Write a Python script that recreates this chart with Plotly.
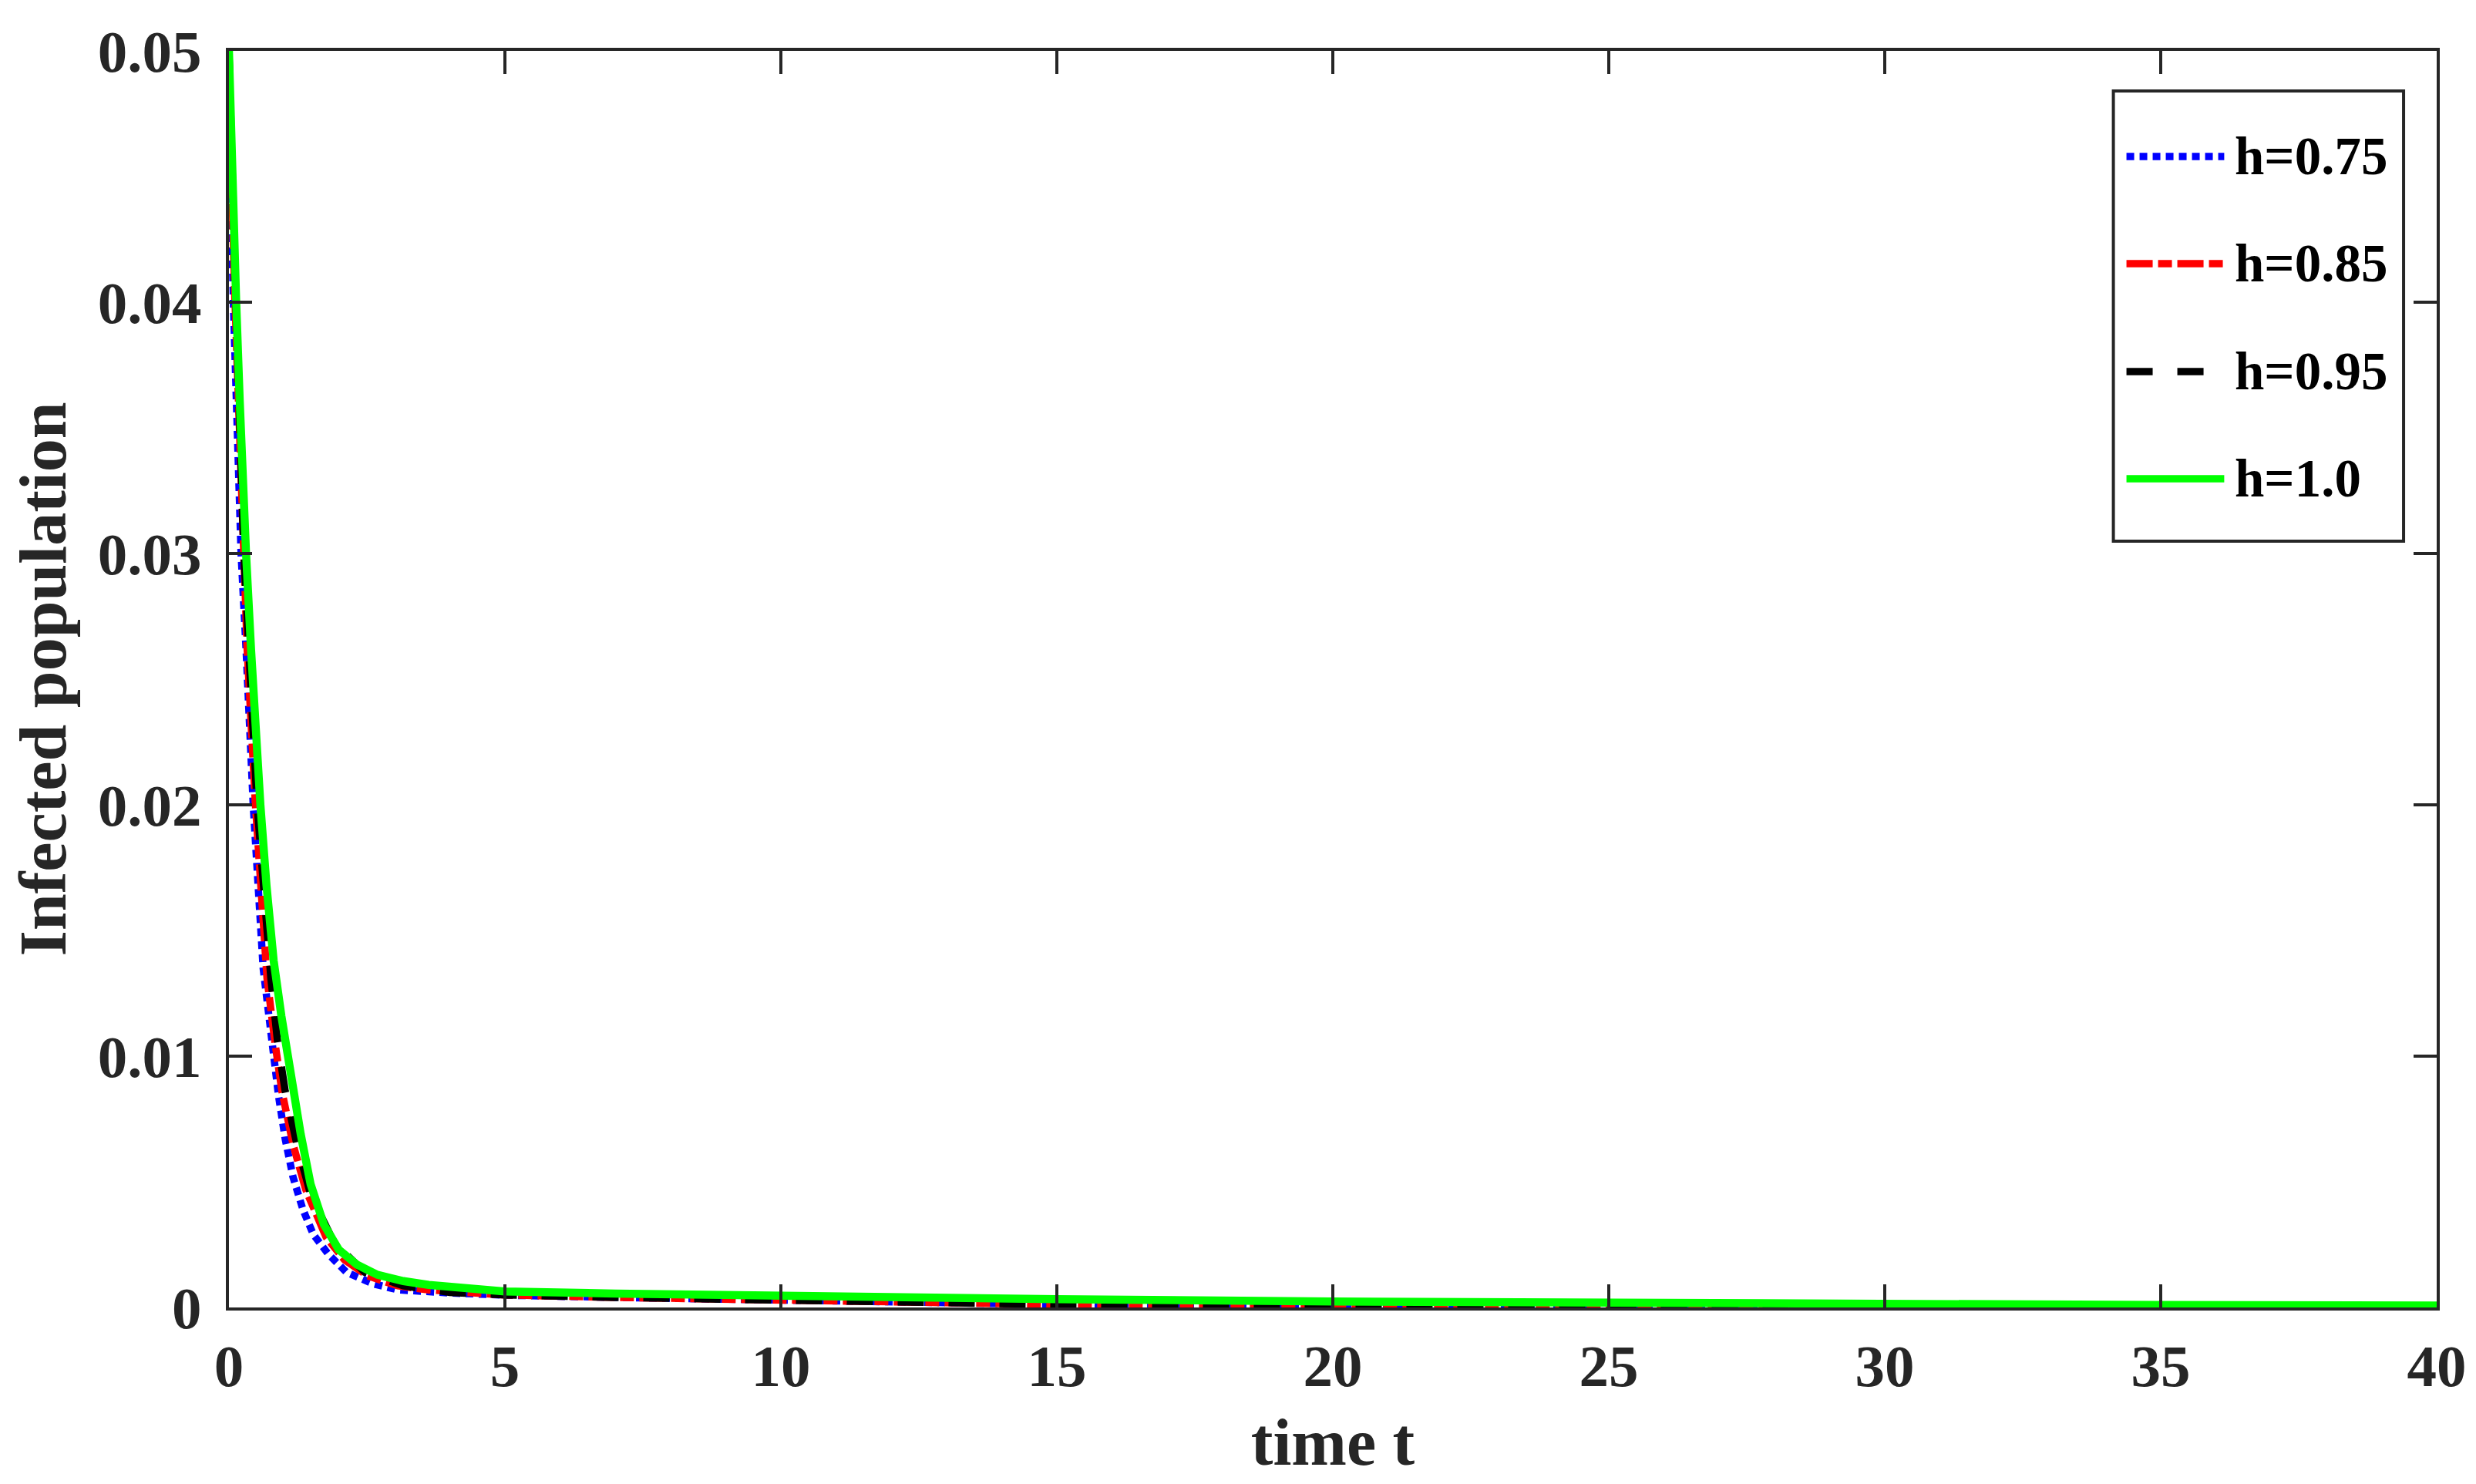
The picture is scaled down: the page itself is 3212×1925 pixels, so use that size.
import plotly.graph_objects as go

# ---------------- data ----------------
series_names = ["h=0.75", "h=0.85", "h=0.95", "h=1.0"]

t_h075 = [0, 0.02, 0.05, 0.08, 0.13, 0.18, 0.22, 0.31, 0.44, 0.62, 0.72, 0.81, 0.90,
          1.02, 1.16, 1.34, 1.53, 1.81, 2.13, 2.60, 3.06, 4.0, 5, 7, 10, 12.6, 15, 20,
          25, 30, 35, 40]
y_h075 = [0.05, 0.0455, 0.0431, 0.0400, 0.0366, 0.0325, 0.0300, 0.0262, 0.0200, 0.0135,
          0.0116, 0.0099, 0.0084, 0.0067, 0.0052, 0.0039, 0.0029, 0.0021, 0.0014, 0.00095,
          0.0007, 0.00058, 0.00049, 0.0004, 0.00028, 0.0002, 0.00012, 0.00005, 0.00002,
          0.0, -0.00002, -0.00004]

t_h085 = [0, 0.03, 0.07, 0.11, 0.16, 0.21, 0.25, 0.33, 0.48, 0.69, 0.83, 0.96, 1.16,
          1.39, 1.76, 2.09, 2.51, 3.06, 3.62, 5, 7, 10, 12.6, 15, 20, 25, 30, 35, 40]
y_h085 = [0.05, 0.0455, 0.0431, 0.0400, 0.0366, 0.0325, 0.0300, 0.0262, 0.0200, 0.0131,
          0.0106, 0.0086, 0.0065, 0.0047, 0.0028, 0.0019, 0.00126, 0.00086, 0.0007,
          0.0005, 0.0004, 0.00029, 0.0002, 0.00012, 0.00005, 0.00002, 0.00001, 0.0,
          -0.00002]

t_h095 = [0, 0.035, 0.085, 0.125, 0.175, 0.235, 0.27, 0.36, 0.51, 0.76, 0.88, 1.02,
          1.23, 1.48, 1.90, 2.46, 3.16, 4.0, 5, 7, 10, 12.6, 15, 20, 25, 30, 35, 40]
y_h095 = [0.05, 0.0455, 0.0431, 0.0400, 0.0366, 0.0325, 0.0300, 0.0262, 0.0200, 0.0131,
          0.0106, 0.0086, 0.0065, 0.0045, 0.0026, 0.0014, 0.00086, 0.0006, 0.0005,
          0.0004, 0.0003, 0.0002, 0.00012, 0.00005, 0.00002, 0.00001, 0.0, -0.00002]

t_h100 = [0, 0.024, 0.06, 0.13, 0.195, 0.265, 0.31, 0.40, 0.49, 0.57, 0.68, 0.81, 0.95,
          1.06, 1.16, 1.30, 1.48, 1.72, 1.99, 2.32, 2.69, 3.16, 3.62, 4.04, 5, 7, 10,
          12.6, 15, 20, 25, 30, 35, 40]
y_h100 = [0.05, 0.0478, 0.0443, 0.0401, 0.0361, 0.0318, 0.0300, 0.0262, 0.0227, 0.0200,
          0.0168, 0.0138, 0.0116, 0.0101, 0.0087, 0.0069, 0.0049, 0.0033, 0.0023, 0.0017,
          0.0013, 0.00105, 0.0009, 0.0008, 0.00064, 0.00055, 0.00045, 0.00038, 0.00033,
          0.00024, 0.00017, 0.00013, 0.0001, 0.00008]

x_ticks = [0, 5, 10, 15, 20, 25, 30, 35, 40]
x_ticktext = ["0", "5", "10", "15", "20", "25", "30", "35", "40"]
y_ticks = [0, 0.01, 0.02, 0.03, 0.04, 0.05]
y_ticktext = ["0", "0.01", "0.02", "0.03", "0.04", "0.05"]

# ---------------- styles ----------------
FONT = "Liberation Serif, Times New Roman, serif"
AX = "#262626"
styles = [
    dict(color="#0000FF", width=9.5, dash="10px,7px"),
    dict(color="#FF0000", width=9.5, dash="34px,7px,18px,7px"),
    dict(color="#000000", width=9.5, dash="34px,32px"),
    dict(color="#00FF00", width=10.5, dash="solid"),
]
xs = [t_h075, t_h085, t_h095, t_h100]
ys = [y_h075, y_h085, y_h095, y_h100]

fig = go.Figure()
for name, x, y, st in zip(series_names, xs, ys, styles):
    fig.add_trace(go.Scatter(x=x, y=y, mode="lines", name=name, line=st,
                             showlegend=False))

axis_common = dict(
    showline=True, linewidth=4, linecolor=AX, mirror="ticks",
    ticks="inside", ticklen=30, tickwidth=3.5, tickcolor=AX,
    showgrid=False, zeroline=False,
    tickfont=dict(family=FONT, size=77, color=AX, weight="bold"),
)
fig.update_xaxes(range=[0, 40], tickvals=x_ticks, ticktext=x_ticktext,
                 ticklabelstandoff=6,
                 title=dict(text="time t", standoff=26,
                            font=dict(family=FONT, size=86, color=AX, weight="bold")),
                 **axis_common)
fig.update_yaxes(range=[0, 0.05], tickvals=y_ticks, ticktext=y_ticktext,
                 ticklabelstandoff=16,
                 title=dict(text="Infected population", standoff=16,
                            font=dict(family=FONT, size=86, color=AX, weight="bold")),
                 **axis_common)

# ---------------- custom legend (MATLAB-style box) ----------------
# positions in page pixels of the reference picture
L, R, T, B = 2745, 3122, 118, 702          # legend box
pl, pr, pt, pb = 297, 3165, 66, 1696       # plot area
def px(X):
    return (X - pl) / (pr - pl)
def py(Y):
    return (pb - Y) / (pb - pt)

shapes = [dict(type="rect", xref="paper", yref="paper",
               x0=px(L), x1=px(R), y0=py(B), y1=py(T),
               line=dict(color=AX, width=4), fillcolor="white", layer="above")]
annotations = []
entry_y = [203, 342, 482, 621]
for name, st, ey in zip(series_names, styles, entry_y):
    shapes.append(dict(type="line", xref="paper", yref="paper",
                       x0=px(2762), x1=px(2889), y0=py(ey), y1=py(ey),
                       line=dict(color=st["color"], width=9.5, dash=st["dash"]),
                       layer="above"))
    annotations.append(dict(xref="paper", yref="paper", x=px(2901), y=py(ey),
                            xanchor="left", yanchor="middle", showarrow=False,
                            text=name,
                            font=dict(family=FONT, size=69, color="#000000",
                                      weight="bold")))

# the page body has an 8 px default margin, so the figure is offset by 8 px
OFF = 8
W, H = 3212 - OFF, 1925 - OFF
fig.update_layout(
    width=W, height=H,
    margin=dict(l=pl - OFF, r=W - (pr - OFF), t=pt - OFF, b=H - (pb - OFF), pad=0),
    plot_bgcolor="white", paper_bgcolor="white",
    font=dict(family=FONT, color=AX),
    showlegend=False,
    shapes=shapes, annotations=annotations,
)

fig.write_html("out.html")
